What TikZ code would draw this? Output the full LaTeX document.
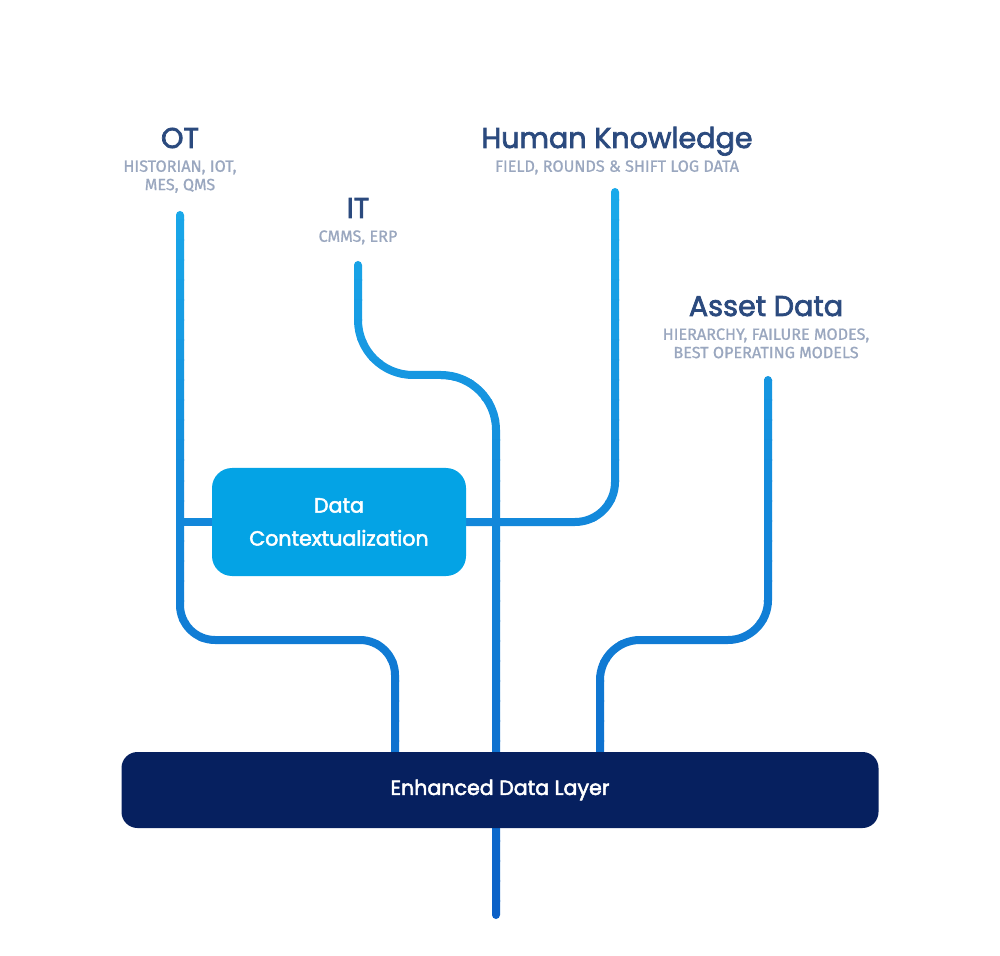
\documentclass[tikz,border=0pt]{standalone}
\usepackage{fontspec}
\setmainfont{Poppins}
\newfontfamily\headfont{Poppins}[FakeBold=2.5]
\newfontfamily\subfont{Fira Sans}[FakeBold=1]
\usetikzlibrary{positioning,backgrounds}
\definecolor{titleblue}{HTML}{2B4A7E}
\definecolor{subgray}{HTML}{9AA7BF}
\definecolor{ctxblue}{HTML}{04A3E5}
\definecolor{navy}{HTML}{06205F}
\definecolor{wiretop}{HTML}{1AA9EA}
\definecolor{wirebot}{HTML}{0A5EC6}

\tikzset{
  title/.style={text=titleblue, font=\headfont\fontsize{14.3}{18}\selectfont, inner sep=0pt, anchor=base},
  subtitle/.style={text=subgray, font=\subfont\fontsize{8.1}{9.2}\selectfont, align=center, inner sep=0pt},
  wire/.style={draw=wirecol, line width=4pt, line cap=round, rounded corners=#1},
  ctxbox/.style={fill=ctxblue, text=white, rounded corners=10pt, minimum width=127pt,
    minimum height=54pt, align=center, font=\headfont\fontsize{10.3}{16.5}\selectfont},
  layerbox/.style={fill=navy, text=white, rounded corners=8pt, minimum width=378.5pt,
    minimum height=38pt, font=\headfont\fontsize{10.3}{12}\selectfont}
}

% the wires, drawn once per colour band
\newcommand{\drawwires}{%
  \draw[wire=17.5pt] (otTop) -- (180,640) -| (otEnd);
  \draw[wire=27.5pt] (itTop) -- (358,375) -| (itEnd);
  \draw[wire=20pt] (hkTop) |- (ctx.east);
  \draw[wire=0pt] (ctx.west) -- (ctx.west -| otTop);
  \draw[wire=20pt] (adTop) -- (768,640) -| (adEnd);
}

\begin{document}
\begin{tikzpicture}[x=0.5pt, y=-0.5pt]
\useasboundingbox (0,0) rectangle (1000,956);

% titles
\node[title] (ot) at (180,148) {OT};
\node[subtitle, below=6pt of ot.base] (otSub) {HISTORIAN, IOT,\\MES, QMS};
\node[title] (it) at (358,218) {IT};
\node[subtitle, below=6pt of it.base] (itSub) {CMMS, ERP};
\node[title] (hk) at (617,148) {Human Knowledge};
\node[subtitle, below=6pt of hk.base] (hkSub) {FIELD, ROUNDS \& SHIFT LOG DATA};
\node[title] (ad) at (766,316) {Asset Data};
\node[subtitle, below=6pt of ad.base] (adSub) {HIERARCHY, FAILURE MODES,\\BEST OPERATING MODELS};

% boxes
\node[ctxbox] (ctx) at (339,522) {Data\\Contextualization};
\node[layerbox] (layer) at (500,790) {Enhanced Data Layer};

% wire ends
\coordinate (otTop) at (180,215);
\coordinate (otEnd) at (395,770);
\coordinate (itTop) at (358,265);
\coordinate (itEnd) at (496,915);
\coordinate (hkTop) at (615,192);
\coordinate (adTop) at (768,380);
\coordinate (adEnd) at (600,770);

\begin{scope}[on background layer]
  \foreach \i in {0,...,37} {
    \pgfmathtruncatemacro\pct{100*\i/37}
    \colorlet{wirecol}{wirebot!\pct!wiretop}
    \begin{scope}
      \clip (0,180+20*\i) rectangle (1000,201+20*\i);
      \drawwires
    \end{scope}
  }
\end{scope}
\end{tikzpicture}
\end{document}
